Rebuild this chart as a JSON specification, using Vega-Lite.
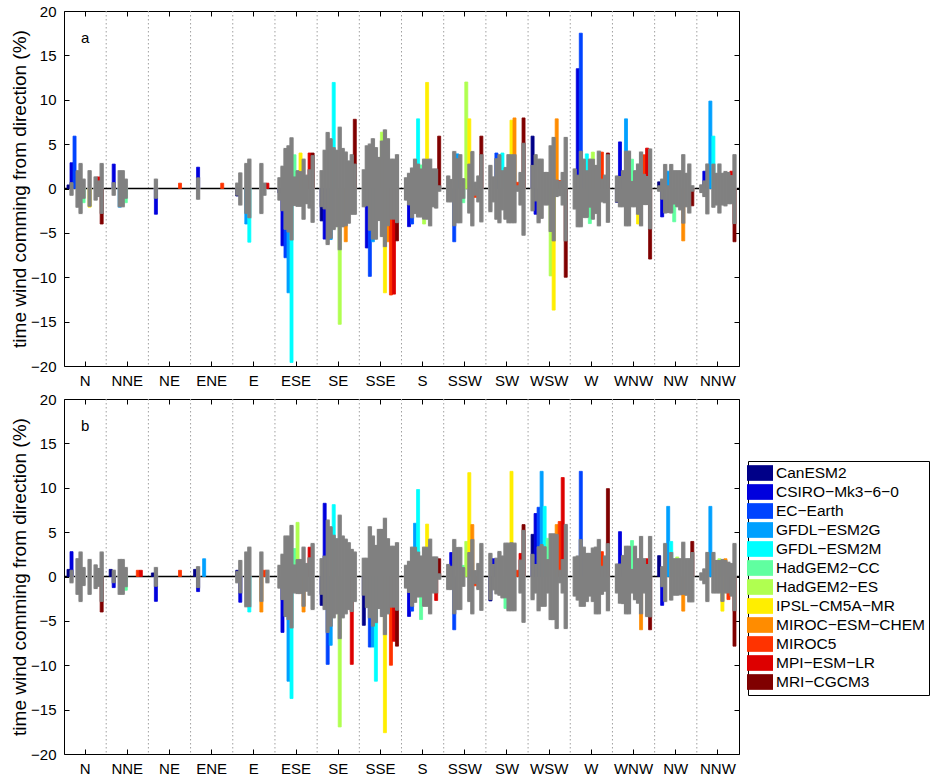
{
"$schema":"https://vega.github.io/schema/vega-lite/v6.json",
"padding":{"left":10,"top":3,"right":0,"bottom":0},
"config":{"font":"Liberation Sans","view":{"stroke":"black","strokeWidth":1},
"axis":{"labelFont":"Liberation Sans","titleFont":"Liberation Sans","tickColor":"black","labelColor":"black","titleColor":"black","grid":false,"domain":false}},
"spacing":2,
"resolve":{"scale":{"color":"independent","stroke":"independent"},"legend":{"color":"independent","stroke":"independent"}},
"datasets":{
"a":[
{"d":"N","m":"CanESM2","v":0.4},
{"d":"N","m":"CSIRO−Mk3−6−0","v":2.9,"lo":-0.75,"hi":0.65},
{"d":"N","m":"EC−Earth","v":5.9},
{"d":"N","m":"GFDL−ESM2G","lo":-2.1,"hi":2.0},
{"d":"N","m":"GFDL−ESM2M","lo":-2.8,"hi":2.8},
{"d":"N","m":"HadGEM2−CC","v":-1.6,"lo":-1.1,"hi":1.05},
{"d":"N","m":"IPSL−CM5A−MR","v":-2.1,"lo":-2.0,"hi":2.0},
{"d":"N","m":"MIROC5","lo":-1.3,"hi":1.3},
{"d":"N","m":"MPI−ESM−LR","v":1.3,"lo":-0.9,"hi":0.85},
{"d":"N","m":"MRI−CGCM3","v":-4.0,"lo":-2.8,"hi":2.8},
{"d":"NNE","m":"CSIRO−Mk3−6−0","v":2.75,"lo":-0.75,"hi":0.65},
{"d":"NNE","m":"GFDL−ESM2G","v":-2.1,"lo":-2.05,"hi":2.0},
{"d":"NNE","m":"GFDL−ESM2M","lo":-2.05,"hi":2.0},
{"d":"NNE","m":"HadGEM2−CC","v":-1.6,"lo":-1.1,"hi":1.05},
{"d":"NE","m":"CSIRO−Mk3−6−0","v":-2.9,"lo":-1.1,"hi":1.05},
{"d":"NE","m":"MIROC5","v":0.6},
{"d":"ENE","m":"CSIRO−Mk3−6−0","v":2.4,"lo":-1.2,"hi":1.2},
{"d":"ENE","m":"MIROC5","v":0.6},
{"d":"E","m":"CanESM2","v":-0.85,"lo":-0.75,"hi":0.6},
{"d":"E","m":"CSIRO−Mk3−6−0","lo":-1.85,"hi":1.75},
{"d":"E","m":"GFDL−ESM2G","v":-4.0,"lo":-2.8,"hi":2.8},
{"d":"E","m":"GFDL−ESM2M","v":-6.05,"lo":-3.3,"hi":3.3},
{"d":"E","m":"MIROC−ESM−CHEM","lo":-2.8,"hi":2.8},
{"d":"E","m":"MIROC5","lo":-0.75,"hi":0.6},
{"d":"E","m":"MPI−ESM−LR","v":0.6},
{"d":"ESE","m":"CanESM2","v":-0.5,"lo":-1.3,"hi":1.2},
{"d":"ESE","m":"CSIRO−Mk3−6−0","v":-6.45,"lo":-2.5,"hi":2.5},
{"d":"ESE","m":"EC−Earth","v":-7.8,"lo":-4.6,"hi":4.5},
{"d":"ESE","m":"GFDL−ESM2G","v":-11.75,"lo":-4.9,"hi":4.8},
{"d":"ESE","m":"GFDL−ESM2M","v":-19.6,"lo":-5.8,"hi":5.7},
{"d":"ESE","m":"HadGEM2−CC","v":3.8,"lo":-1.9,"hi":1.3},
{"d":"ESE","m":"HadGEM2−ES","lo":-2.0,"hi":2.0},
{"d":"ESE","m":"IPSL−CM5A−MR","v":4.0,"lo":-2.0,"hi":1.9},
{"d":"ESE","m":"MIROC−ESM−CHEM","lo":-3.45,"hi":3.3},
{"d":"ESE","m":"MIROC5","lo":-1.7,"hi":1.5},
{"d":"ESE","m":"MPI−ESM−LR","v":4.0,"lo":-2.2,"hi":2.1},
{"d":"ESE","m":"MRI−CGCM3","v":4.0,"lo":-3.8,"hi":3.7},
{"d":"SE","m":"CanESM2","v":-3.65,"lo":-2.05,"hi":2.0},
{"d":"SE","m":"CSIRO−Mk3−6−0","v":-5.7,"lo":-2.3,"hi":4.3},
{"d":"SE","m":"EC−Earth","lo":-6.3,"hi":6.3},
{"d":"SE","m":"GFDL−ESM2G","v":-5.75,"lo":-5.6,"hi":5.6},
{"d":"SE","m":"GFDL−ESM2M","v":11.95,"lo":-4.6,"hi":4.6},
{"d":"SE","m":"HadGEM2−CC","lo":-4.3,"hi":4.3},
{"d":"SE","m":"HadGEM2−ES","v":-15.3,"lo":-6.9,"hi":6.9},
{"d":"SE","m":"IPSL−CM5A−MR","lo":-4.3,"hi":4.5},
{"d":"SE","m":"MIROC−ESM−CHEM","v":-6.0,"lo":-4.2,"hi":4.1},
{"d":"SE","m":"MIROC5","lo":-3.9,"hi":3.1},
{"d":"SE","m":"MPI−ESM−LR","lo":-2.9,"hi":3.8},
{"d":"SE","m":"MRI−CGCM3","v":7.8,"lo":-2.9,"hi":2.75},
{"d":"SSE","m":"CanESM2","lo":-2.05,"hi":2.1},
{"d":"SSE","m":"CSIRO−Mk3−6−0","v":-6.7,"lo":-1.95,"hi":4.8},
{"d":"SSE","m":"EC−Earth","v":-9.9,"lo":-4.7,"hi":5.0},
{"d":"SSE","m":"GFDL−ESM2G","v":-6.0,"lo":-5.7,"hi":5.6},
{"d":"SSE","m":"GFDL−ESM2M","lo":-5.7,"hi":4.6},
{"d":"SSE","m":"HadGEM2−CC","lo":-3.6,"hi":3.5},
{"d":"SSE","m":"HadGEM2−ES","v":6.35,"lo":-5.4,"hi":5.35},
{"d":"SSE","m":"IPSL−CM5A−MR","v":-11.75,"lo":-6.55,"hi":6.6},
{"d":"SSE","m":"MIROC−ESM−CHEM","v":-6.0,"lo":-4.2,"hi":5.6},
{"d":"SSE","m":"MIROC5","v":-12.0,"lo":-3.45,"hi":3.3},
{"d":"SSE","m":"MPI−ESM−LR","v":-11.9,"lo":-3.45,"hi":3.3},
{"d":"SSE","m":"MRI−CGCM3","v":-5.9,"lo":-3.85,"hi":3.8},
{"d":"S","m":"CanESM2","lo":-1.3,"hi":1.2},
{"d":"S","m":"CSIRO−Mk3−6−0","v":-4.3,"lo":-1.85,"hi":1.7},
{"d":"S","m":"EC−Earth","v":-4.0,"lo":-3.3,"hi":2.3},
{"d":"S","m":"GFDL−ESM2G","lo":-2.8,"hi":3.3},
{"d":"S","m":"GFDL−ESM2M","v":7.85,"lo":-3.2,"hi":2.75},
{"d":"S","m":"HadGEM2−CC","v":2.65,"lo":-3.2,"hi":2.2},
{"d":"S","m":"HadGEM2−ES","v":-4.0,"lo":-3.45,"hi":3.3},
{"d":"S","m":"IPSL−CM5A−MR","v":11.95,"lo":-3.45,"hi":3.3},
{"d":"S","m":"MIROC−ESM−CHEM","lo":-4.2,"hi":3.3},
{"d":"S","m":"MIROC5","lo":-2.05,"hi":2.2},
{"d":"S","m":"MPI−ESM−LR","lo":-2.2,"hi":2.2},
{"d":"S","m":"MRI−CGCM3","v":5.9,"lo":-0.3,"hi":0.3},
{"d":"SSW","m":"CanESM2","lo":-1.5,"hi":1.4},
{"d":"SSW","m":"CSIRO−Mk3−6−0","lo":-1.5,"hi":1.0},
{"d":"SSW","m":"EC−Earth","v":-6.0,"lo":-4.2,"hi":4.15},
{"d":"SSW","m":"GFDL−ESM2G","v":3.9,"lo":-3.85,"hi":3.35},
{"d":"SSW","m":"GFDL−ESM2M","lo":-3.85,"hi":3.8},
{"d":"SSW","m":"HadGEM2−CC","v":-1.6,"lo":-1.1,"hi":1.1},
{"d":"SSW","m":"HadGEM2−ES","v":12.0},
{"d":"SSW","m":"IPSL−CM5A−MR","v":7.85,"lo":-2.75,"hi":2.75},
{"d":"SSW","m":"MIROC−ESM−CHEM","lo":-4.2,"hi":4.15},
{"d":"SSW","m":"MIROC5","v":-1.0,"lo":-0.75,"hi":0.7},
{"d":"SSW","m":"MPI−ESM−LR","lo":-1.5,"hi":1.4},
{"d":"SSW","m":"MRI−CGCM3","v":5.9,"lo":-3.75,"hi":3.8},
{"d":"SW","m":"CanESM2","lo":-2.6,"hi":2.6},
{"d":"SW","m":"CSIRO−Mk3−6−0","lo":-1.5,"hi":1.3},
{"d":"SW","m":"EC−Earth","v":4.0,"lo":-3.45,"hi":3.35},
{"d":"SW","m":"GFDL−ESM2G","lo":-3.85,"hi":3.8},
{"d":"SW","m":"GFDL−ESM2M","v":4.0,"lo":-2.4,"hi":2.0},
{"d":"SW","m":"HadGEM2−CC","lo":-3.45,"hi":2.35},
{"d":"SW","m":"HadGEM2−ES","lo":-3.85,"hi":3.8},
{"d":"SW","m":"IPSL−CM5A−MR","v":7.7,"lo":-3.85,"hi":3.8},
{"d":"SW","m":"MIROC−ESM−CHEM","v":7.95,"lo":-3.85,"hi":3.8},
{"d":"SW","m":"MIROC5","v":0.7,"lo":-0.3,"hi":0.3},
{"d":"SW","m":"MPI−ESM−LR","lo":-1.85,"hi":1.8},
{"d":"SW","m":"MRI−CGCM3","v":7.95,"lo":-5.25,"hi":5.1},
{"d":"WSW","m":"CanESM2","v":5.9,"lo":-2.5,"hi":2.6},
{"d":"WSW","m":"CSIRO−Mk3−6−0","v":-2.9,"lo":-1.4,"hi":3.8},
{"d":"WSW","m":"EC−Earth","lo":-3.85,"hi":3.3},
{"d":"WSW","m":"GFDL−ESM2G","lo":-3.35,"hi":3.3},
{"d":"WSW","m":"GFDL−ESM2M","lo":-1.85,"hi":1.8},
{"d":"WSW","m":"HadGEM2−CC","lo":-1.85,"hi":1.8},
{"d":"WSW","m":"HadGEM2−ES","v":-9.85,"lo":-4.85,"hi":4.8},
{"d":"WSW","m":"IPSL−CM5A−MR","v":-13.7,"lo":-5.9,"hi":5.75},
{"d":"WSW","m":"MIROC−ESM−CHEM","v":7.85,"lo":-0.9,"hi":0.95},
{"d":"WSW","m":"MIROC5","v":0.9,"lo":-0.8,"hi":0.8},
{"d":"WSW","m":"MPI−ESM−LR","lo":-1.85,"hi":1.8},
{"d":"WSW","m":"MRI−CGCM3","v":-10.0,"lo":-5.9,"hi":5.75},
{"d":"W","m":"CanESM2","lo":-2.3,"hi":2.2},
{"d":"W","m":"CSIRO−Mk3−6−0","v":13.5,"lo":-4.3,"hi":1.5},
{"d":"W","m":"EC−Earth","v":17.5,"lo":-4.3,"hi":4.2},
{"d":"W","m":"GFDL−ESM2G","lo":-3.25,"hi":3.3},
{"d":"W","m":"GFDL−ESM2M","v":3.9,"lo":-3.25,"hi":2.0},
{"d":"W","m":"HadGEM2−CC","v":-3.95,"lo":-2.1,"hi":3.3},
{"d":"W","m":"HadGEM2−ES","v":4.1,"lo":-3.45,"hi":3.3},
{"d":"W","m":"IPSL−CM5A−MR","lo":-2.8,"hi":2.6},
{"d":"W","m":"MIROC−ESM−CHEM","lo":-4.2,"hi":4.2},
{"d":"W","m":"MIROC5","v":4.1,"lo":-1.5,"hi":1.05},
{"d":"W","m":"MPI−ESM−LR","lo":-1.6,"hi":1.5},
{"d":"W","m":"MRI−CGCM3","v":4.0,"lo":-3.8,"hi":3.8},
{"d":"WNW","m":"CanESM2","v":-1.55,"lo":-1.5,"hi":1.4},
{"d":"WNW","m":"CSIRO−Mk3−6−0","v":5.25,"lo":-2.05,"hi":1.35},
{"d":"WNW","m":"EC−Earth","lo":-2.05,"hi":2.0},
{"d":"WNW","m":"GFDL−ESM2G","v":7.85,"lo":-4.2,"hi":4.2},
{"d":"WNW","m":"GFDL−ESM2M","lo":-4.2,"hi":4.2},
{"d":"WNW","m":"HadGEM2−CC","v":3.3,"lo":-2.05,"hi":0.8},
{"d":"WNW","m":"HadGEM2−ES","lo":-2.05,"hi":2.0},
{"d":"WNW","m":"IPSL−CM5A−MR","v":-4.0,"lo":-2.9,"hi":2.75},
{"d":"WNW","m":"MIROC−ESM−CHEM","lo":-4.2,"hi":4.1},
{"d":"WNW","m":"MIROC5","v":3.8,"lo":-1.8,"hi":1.6},
{"d":"WNW","m":"MPI−ESM−LR","v":4.55,"lo":-1.8,"hi":1.35},
{"d":"WNW","m":"MRI−CGCM3","v":-7.95,"lo":-4.55,"hi":4.45},
{"d":"NW","m":"CanESM2","v":0.75,"lo":-0.3,"hi":0.3},
{"d":"NW","m":"CSIRO−Mk3−6−0","v":-3.2,"lo":-1.2,"hi":1.05},
{"d":"NW","m":"EC−Earth","lo":-2.75,"hi":2.7},
{"d":"NW","m":"GFDL−ESM2G","v":1.95,"lo":-2.7,"hi":0.3},
{"d":"NW","m":"GFDL−ESM2M","lo":-2.75,"hi":2.7},
{"d":"NW","m":"HadGEM2−CC","v":-3.75,"lo":-1.75,"hi":2.0},
{"d":"NW","m":"HadGEM2−ES","lo":-2.05,"hi":2.0},
{"d":"NW","m":"IPSL−CM5A−MR","lo":-2.4,"hi":2.0},
{"d":"NW","m":"MIROC−ESM−CHEM","v":-5.9,"lo":-3.9,"hi":3.8},
{"d":"NW","m":"MIROC5","lo":-2.05,"hi":1.7},
{"d":"NW","m":"MPI−ESM−LR","lo":-2.75,"hi":2.75},
{"d":"NW","m":"MRI−CGCM3","v":-1.95,"lo":-0.3,"hi":0.3},
{"d":"NNW","m":"CanESM2","lo":-0.45,"hi":0.4},
{"d":"NNW","m":"CSIRO−Mk3−6−0","v":1.95,"lo":-0.9,"hi":0.85},
{"d":"NNW","m":"EC−Earth","lo":-2.85,"hi":2.75},
{"d":"NNW","m":"GFDL−ESM2G","v":9.85},
{"d":"NNW","m":"GFDL−ESM2M","v":5.9,"lo":-2.1,"hi":2.75},
{"d":"NNW","m":"HadGEM2−CC","lo":-1.85,"hi":1.7},
{"d":"NNW","m":"HadGEM2−ES","lo":-2.75,"hi":2.75},
{"d":"NNW","m":"IPSL−CM5A−MR","lo":-1.85,"hi":1.7},
{"d":"NNW","m":"MIROC−ESM−CHEM","lo":-1.95,"hi":1.9},
{"d":"NNW","m":"MIROC5","lo":-1.7,"hi":1.8},
{"d":"NNW","m":"MPI−ESM−LR","v":1.95,"lo":-1.7,"hi":1.45},
{"d":"NNW","m":"MRI−CGCM3","v":-6.0,"lo":-3.95,"hi":3.8}
],
"b":[
{"d":"N","m":"CanESM2","v":0.8},
{"d":"N","m":"CSIRO−Mk3−6−0","v":2.8,"lo":-0.7,"hi":0.7},
{"d":"N","m":"GFDL−ESM2G","lo":-2.0,"hi":2.0},
{"d":"N","m":"GFDL−ESM2M","lo":-2.8,"hi":2.75},
{"d":"N","m":"HadGEM2−CC","lo":-1.0,"hi":1.0},
{"d":"N","m":"IPSL−CM5A−MR","lo":-2.0,"hi":1.9},
{"d":"N","m":"MIROC5","lo":-1.35,"hi":1.3},
{"d":"N","m":"MPI−ESM−LR","lo":-1.1,"hi":0.9},
{"d":"N","m":"MRI−CGCM3","v":-4.0,"lo":-2.8,"hi":2.75},
{"d":"NNE","m":"CanESM2","v":0.8},
{"d":"NNE","m":"CSIRO−Mk3−6−0","v":-1.25,"lo":-0.7,"hi":0.7},
{"d":"NNE","m":"GFDL−ESM2G","lo":-2.0,"hi":1.9},
{"d":"NNE","m":"GFDL−ESM2M","lo":-2.0,"hi":1.9},
{"d":"NNE","m":"HadGEM2−CC","v":-1.55,"lo":-1.15,"hi":1.0},
{"d":"NNE","m":"MIROC5","v":0.7},
{"d":"NNE","m":"MPI−ESM−LR","v":0.7},
{"d":"NE","m":"CanESM2","v":0.4},
{"d":"NE","m":"CSIRO−Mk3−6−0","v":-2.8,"lo":-1.1,"hi":1.0},
{"d":"NE","m":"MIROC5","v":0.7},
{"d":"ENE","m":"CanESM2","v":0.8},
{"d":"ENE","m":"CSIRO−Mk3−6−0","v":-1.7,"lo":-1.25,"hi":1.1},
{"d":"ENE","m":"GFDL−ESM2G","v":2.0},
{"d":"E","m":"CanESM2","v":0.7,"lo":-0.7,"hi":0.55},
{"d":"E","m":"CSIRO−Mk3−6−0","v":-2.9,"lo":-1.85,"hi":1.8},
{"d":"E","m":"GFDL−ESM2G","lo":-3.4,"hi":2.75},
{"d":"E","m":"GFDL−ESM2M","v":-4.0,"lo":-3.4,"hi":3.3},
{"d":"E","m":"MIROC−ESM−CHEM","v":-4.0,"lo":-2.8,"hi":2.75},
{"d":"E","m":"MIROC5","v":0.7},
{"d":"E","m":"MPI−ESM−LR","lo":-0.7,"hi":0.7},
{"d":"ESE","m":"CanESM2","lo":-1.3,"hi":1.25},
{"d":"ESE","m":"CSIRO−Mk3−6−0","v":-6.3,"lo":-2.6,"hi":2.5},
{"d":"ESE","m":"EC−Earth","lo":-4.5,"hi":4.55},
{"d":"ESE","m":"GFDL−ESM2G","v":-11.8,"lo":-4.85,"hi":4.55},
{"d":"ESE","m":"GFDL−ESM2M","v":-13.75,"lo":-5.8,"hi":5.75},
{"d":"ESE","m":"HadGEM2−CC","v":3.15,"lo":-1.85,"hi":1.3},
{"d":"ESE","m":"HadGEM2−ES","v":6.1,"lo":-1.9,"hi":1.9},
{"d":"ESE","m":"IPSL−CM5A−MR","lo":-1.9,"hi":1.9},
{"d":"ESE","m":"MIROC−ESM−CHEM","v":-4.0,"lo":-3.35,"hi":3.3},
{"d":"ESE","m":"MIROC5","lo":-1.65,"hi":1.45},
{"d":"ESE","m":"MPI−ESM−LR","v":3.3,"lo":-2.1,"hi":2.1},
{"d":"ESE","m":"MRI−CGCM3","lo":-3.7,"hi":3.7},
{"d":"SE","m":"CanESM2","v":-3.25,"lo":-2.0,"hi":2.0},
{"d":"SE","m":"CSIRO−Mk3−6−0","v":8.25,"lo":-3.7,"hi":2.3},
{"d":"SE","m":"EC−Earth","v":-9.9,"lo":-6.3,"hi":6.35},
{"d":"SE","m":"GFDL−ESM2G","v":-7.75,"lo":-5.6,"hi":5.6},
{"d":"SE","m":"GFDL−ESM2M","v":8.1,"lo":-4.65,"hi":4.65},
{"d":"SE","m":"HadGEM2−CC","lo":-4.2,"hi":4.25},
{"d":"SE","m":"HadGEM2−ES","v":-16.95,"lo":-7.0,"hi":6.9},
{"d":"SE","m":"IPSL−CM5A−MR","lo":-4.65,"hi":4.55},
{"d":"SE","m":"MIROC−ESM−CHEM","lo":-4.2,"hi":4.2},
{"d":"SE","m":"MIROC5","lo":-3.7,"hi":3.8},
{"d":"SE","m":"MPI−ESM−LR","v":-9.9,"lo":-3.95,"hi":3.05},
{"d":"SE","m":"MRI−CGCM3","lo":-2.8,"hi":2.75},
{"d":"SSE","m":"CanESM2","v":-5.5,"lo":-2.1,"hi":2.05},
{"d":"SSE","m":"CSIRO−Mk3−6−0","lo":-3.5,"hi":2.05},
{"d":"SSE","m":"EC−Earth","v":-7.95,"lo":-4.65,"hi":5.6},
{"d":"SSE","m":"GFDL−ESM2G","v":-7.95,"lo":-5.6,"hi":4.55},
{"d":"SSE","m":"GFDL−ESM2M","v":-11.8,"lo":-5.2,"hi":3.5},
{"d":"SSE","m":"HadGEM2−CC","lo":-3.6,"hi":5.3},
{"d":"SSE","m":"HadGEM2−ES","lo":-4.5,"hi":5.3},
{"d":"SSE","m":"IPSL−CM5A−MR","v":-17.6,"lo":-6.55,"hi":6.55},
{"d":"SSE","m":"MIROC−ESM−CHEM","lo":-4.2,"hi":4.25},
{"d":"SSE","m":"MIROC5","v":-10.0,"lo":-3.45,"hi":3.4},
{"d":"SSE","m":"MPI−ESM−LR","v":-7.3,"lo":-3.45,"hi":3.4},
{"d":"SSE","m":"MRI−CGCM3","v":-7.85,"lo":-3.8,"hi":3.8},
{"d":"S","m":"CanESM2","lo":-1.3,"hi":1.25},
{"d":"S","m":"CSIRO−Mk3−6−0","v":-4.5,"lo":-1.8,"hi":1.7},
{"d":"S","m":"EC−Earth","v":-3.9,"lo":-3.35,"hi":3.3},
{"d":"S","m":"GFDL−ESM2G","v":6.0,"lo":-2.9,"hi":3.3},
{"d":"S","m":"GFDL−ESM2M","v":9.8,"lo":-2.3,"hi":2.75},
{"d":"S","m":"HadGEM2−CC","v":-4.85,"lo":-2.3,"hi":2.3},
{"d":"S","m":"HadGEM2−ES","lo":-3.35,"hi":3.3},
{"d":"S","m":"IPSL−CM5A−MR","v":5.9,"lo":-3.35,"hi":3.3},
{"d":"S","m":"MIROC−ESM−CHEM","lo":-4.2,"hi":4.2},
{"d":"S","m":"MIROC5","lo":-1.85,"hi":2.2},
{"d":"S","m":"MPI−ESM−LR","v":-2.7,"lo":-1.85,"hi":2.2},
{"d":"S","m":"MRI−CGCM3","v":2.0,"lo":-0.3,"hi":0.3},
{"d":"SSW","m":"CanESM2","lo":-1.45,"hi":1.35},
{"d":"SSW","m":"CSIRO−Mk3−6−0","v":2.7,"lo":-1.45,"hi":1.15},
{"d":"SSW","m":"EC−Earth","v":-6.0,"lo":-4.2,"hi":4.15},
{"d":"SSW","m":"GFDL−ESM2G","lo":-3.7,"hi":3.25},
{"d":"SSW","m":"GFDL−ESM2M","lo":-3.7,"hi":3.25},
{"d":"SSW","m":"HadGEM2−CC","v":1.25,"lo":-1.1,"hi":1.0},
{"d":"SSW","m":"HadGEM2−ES","v":3.95},
{"d":"SSW","m":"IPSL−CM5A−MR","v":11.7,"lo":-2.8,"hi":2.7},
{"d":"SSW","m":"MIROC−ESM−CHEM","v":5.85,"lo":-4.2,"hi":4.15},
{"d":"SSW","m":"MIROC5","v":-1.05,"lo":-0.8,"hi":0.65},
{"d":"SSW","m":"MPI−ESM−LR","lo":-1.45,"hi":1.45},
{"d":"SSW","m":"MRI−CGCM3","lo":-3.8,"hi":3.7},
{"d":"SW","m":"CanESM2","v":-2.75,"lo":-2.6,"hi":2.6},
{"d":"SW","m":"CSIRO−Mk3−6−0","v":2.0,"lo":-1.5,"hi":1.35},
{"d":"SW","m":"EC−Earth","lo":-1.95,"hi":2.05},
{"d":"SW","m":"GFDL−ESM2G","lo":-2.1,"hi":2.8},
{"d":"SW","m":"GFDL−ESM2M","lo":-2.4,"hi":2.3},
{"d":"SW","m":"HadGEM2−CC","v":-3.6,"lo":-2.4,"hi":3.75},
{"d":"SW","m":"HadGEM2−ES","lo":-3.85,"hi":3.75},
{"d":"SW","m":"IPSL−CM5A−MR","v":11.85,"lo":-3.85,"hi":3.8},
{"d":"SW","m":"MIROC−ESM−CHEM","lo":-3.85,"hi":3.75},
{"d":"SW","m":"MIROC5","v":0.7},
{"d":"SW","m":"MPI−ESM−LR","v":2.6,"lo":-1.85,"hi":1.85},
{"d":"SW","m":"MRI−CGCM3","v":5.85,"lo":-5.15,"hi":5.2},
{"d":"WSW","m":"CanESM2","v":4.75,"lo":-2.6,"hi":2.5},
{"d":"WSW","m":"CSIRO−Mk3−6−0","v":7.1,"lo":-1.85,"hi":1.35},
{"d":"WSW","m":"EC−Earth","v":7.8,"lo":-3.85,"hi":3.35},
{"d":"WSW","m":"GFDL−ESM2G","v":11.85,"lo":-3.35,"hi":3.6},
{"d":"WSW","m":"GFDL−ESM2M","v":7.9,"lo":-3.35,"hi":3.35},
{"d":"WSW","m":"HadGEM2−CC","v":4.3,"lo":-1.85,"hi":1.9},
{"d":"WSW","m":"HadGEM2−ES","lo":-4.85,"hi":4.8},
{"d":"WSW","m":"IPSL−CM5A−MR","lo":-4.85,"hi":4.8},
{"d":"WSW","m":"MIROC−ESM−CHEM","v":5.85,"lo":-5.85,"hi":4.75},
{"d":"WSW","m":"MIROC5","v":6.2,"lo":-0.7,"hi":0.7},
{"d":"WSW","m":"MPI−ESM−LR","v":11.15,"lo":-1.85,"hi":1.9},
{"d":"WSW","m":"MRI−CGCM3","lo":-5.85,"hi":5.85},
{"d":"W","m":"CanESM2","lo":-2.2,"hi":2.2},
{"d":"W","m":"CSIRO−Mk3−6−0","lo":-2.65,"hi":2.3},
{"d":"W","m":"EC−Earth","v":11.85,"lo":-3.35,"hi":4.15},
{"d":"W","m":"GFDL−ESM2G","lo":-3.35,"hi":3.3},
{"d":"W","m":"GFDL−ESM2M","lo":-2.8,"hi":2.6},
{"d":"W","m":"HadGEM2−CC","lo":-2.2,"hi":2.6},
{"d":"W","m":"HadGEM2−ES","lo":-2.8,"hi":3.2},
{"d":"W","m":"IPSL−CM5A−MR","lo":-4.2,"hi":3.3},
{"d":"W","m":"MIROC−ESM−CHEM","lo":-4.2,"hi":4.15},
{"d":"W","m":"MIROC5","v":2.8,"lo":-2.0,"hi":1.15},
{"d":"W","m":"MPI−ESM−LR","lo":-1.65,"hi":2.3},
{"d":"W","m":"MRI−CGCM3","v":9.9,"lo":-3.85,"hi":3.7},
{"d":"WNW","m":"CanESM2","lo":-1.85,"hi":1.4},
{"d":"WNW","m":"CSIRO−Mk3−6−0","v":5.05,"lo":-3.0,"hi":1.4},
{"d":"WNW","m":"EC−Earth","lo":-3.05,"hi":2.35},
{"d":"WNW","m":"GFDL−ESM2G","lo":-4.2,"hi":3.4},
{"d":"WNW","m":"GFDL−ESM2M","lo":-4.2,"hi":3.4},
{"d":"WNW","m":"HadGEM2−CC","v":4.05,"lo":-1.85,"hi":0.8},
{"d":"WNW","m":"HadGEM2−ES","lo":-2.6,"hi":3.4},
{"d":"WNW","m":"IPSL−CM5A−MR","lo":-3.0,"hi":2.0},
{"d":"WNW","m":"MIROC−ESM−CHEM","v":-6.0,"lo":-4.2,"hi":4.5},
{"d":"WNW","m":"MIROC5","lo":-1.85,"hi":2.0},
{"d":"WNW","m":"MPI−ESM−LR","v":2.0,"lo":-4.5,"hi":1.35},
{"d":"WNW","m":"MRI−CGCM3","v":-6.0,"lo":-4.55,"hi":4.5},
{"d":"NW","m":"CanESM2","v":2.35},
{"d":"NW","m":"CSIRO−Mk3−6−0","v":-3.25,"lo":-1.15,"hi":1.1},
{"d":"NW","m":"EC−Earth","lo":-2.8,"hi":3.7},
{"d":"NW","m":"GFDL−ESM2G","v":7.9},
{"d":"NW","m":"GFDL−ESM2M","v":3.95,"lo":-2.65,"hi":2.7},
{"d":"NW","m":"HadGEM2−CC","lo":-2.1,"hi":2.0},
{"d":"NW","m":"HadGEM2−ES","v":2.2,"lo":-2.1,"hi":2.0},
{"d":"NW","m":"IPSL−CM5A−MR","lo":-2.05,"hi":2.0},
{"d":"NW","m":"MIROC−ESM−CHEM","v":-3.9,"lo":-2.0,"hi":3.85},
{"d":"NW","m":"MIROC5","lo":-2.1,"hi":2.0},
{"d":"NW","m":"MPI−ESM−LR","lo":-2.85,"hi":2.0},
{"d":"NW","m":"MRI−CGCM3","v":3.95,"lo":-2.85,"hi":2.7},
{"d":"NNW","m":"CanESM2","lo":-0.4,"hi":0.4},
{"d":"NNW","m":"CSIRO−Mk3−6−0","lo":-0.8,"hi":0.85},
{"d":"NNW","m":"EC−Earth","lo":-2.8,"hi":2.7},
{"d":"NNW","m":"GFDL−ESM2G","v":7.9},
{"d":"NNW","m":"GFDL−ESM2M","lo":-1.85,"hi":2.7},
{"d":"NNW","m":"HadGEM2−CC","lo":-1.85,"hi":1.8},
{"d":"NNW","m":"HadGEM2−ES","v":2.0,"lo":-1.85,"hi":1.8},
{"d":"NNW","m":"IPSL−CM5A−MR","v":-3.9,"lo":-2.8,"hi":1.9},
{"d":"NNW","m":"MIROC−ESM−CHEM","v":2.0,"lo":-1.85,"hi":1.8},
{"d":"NNW","m":"MIROC5","v":-2.6,"lo":-1.85,"hi":1.6},
{"d":"NNW","m":"MPI−ESM−LR","lo":-2.2,"hi":1.45},
{"d":"NNW","m":"MRI−CGCM3","v":-7.85,"lo":-3.85,"hi":3.7}
],
"seps":[{"d":"NNE"},{"d":"NE"},{"d":"ENE"},{"d":"E"},{"d":"ESE"},{"d":"SE"},{"d":"SSE"},{"d":"S"},{"d":"SSW"},{"d":"SW"},{"d":"WSW"},{"d":"W"},{"d":"WNW"},{"d":"NW"},{"d":"NNW"}]
},
"vconcat":[
{
"width":675,"height":355,
"data":{"name":"a"},
"layer":[
{"data":{"name":"seps"},"mark":{"type":"rule","color":"#a0a0a0","strokeDash":[1.5,2.5],"strokeWidth":1},
 "encoding":{"x":{"field":"d","type":"nominal","bandPosition":0,"scale":{"domain":["N","NNE","NE","ENE","E","ESE","SE","SSE","S","SSW","SW","WSW","W","WNW","NW","NNW"],"paddingInner":0,"paddingOuter":0,"round":false},"axis":null}}},
{"data":{"values":[{}]},"mark":{"type":"rule","color":"black","strokeWidth":1.3},
 "encoding":{"y":{"datum":0,"type":"quantitative","scale":{"domain":[-20,20],"nice":false},"axis":null}}},
{"mark":{"type":"bar","color":"#d2d2d2","stroke":"#d2d2d2","strokeWidth":1.6,"xOffset":1},
 "encoding":{
  "x":{"field":"d","type":"nominal","axis":null},
  "xOffset":{"field":"m","type":"nominal"},
  "y":{"field":"lo","type":"quantitative","axis":null},
  "y2":{"field":"hi"}}},
{"mark":{"type":"bar","strokeWidth":0.8},
 "encoding":{
  "x":{"field":"d","type":"nominal","scale":{"domain":["N","NNE","NE","ENE","E","ESE","SE","SSE","S","SSW","SW","WSW","W","WNW","NW","NNW"],"paddingInner":0,"paddingOuter":0,"round":false},
       "axis":{"orient":"bottom","title":null,"labelAngle":0,"labelFontSize":15,"tickSize":-5,"labelPadding":12}},
  "xOffset":{"field":"m","type":"nominal","scale":{"domain":["CanESM2","CSIRO−Mk3−6−0","EC−Earth","GFDL−ESM2G","GFDL−ESM2M","HadGEM2−CC","HadGEM2−ES","IPSL−CM5A−MR","MIROC−ESM−CHEM","MIROC5","MPI−ESM−LR","MRI−CGCM3"],"paddingInner":0,"paddingOuter":1.2,"round":false}},
  "y":{"field":"v","type":"quantitative","stack":null,"scale":{"domain":[-20,20],"nice":false},
       "axis":{"orient":"left","values":[-20,-15,-10,-5,0,5,10,15,20],"tickSize":-5,"labelPadding":13,"labelFontSize":15,"title":"time wind comming from direction (%)","titleFontSize":19,"titleFontWeight":"normal","titlePadding":1}},
  "color":{"field":"m","type":"nominal","scale":{"domain":["CanESM2","CSIRO−Mk3−6−0","EC−Earth","GFDL−ESM2G","GFDL−ESM2M","HadGEM2−CC","HadGEM2−ES","IPSL−CM5A−MR","MIROC−ESM−CHEM","MIROC5","MPI−ESM−LR","MRI−CGCM3"],"range":["#000088","#0000DD","#0044FF","#00A0FF","#00FFFF","#60FFA0","#B0FF50","#FFEE00","#FF8C00","#FF3300","#DD0000","#800000"]},"legend":null},
  "stroke":{"field":"m","type":"nominal","scale":{"domain":["CanESM2","CSIRO−Mk3−6−0","EC−Earth","GFDL−ESM2G","GFDL−ESM2M","HadGEM2−CC","HadGEM2−ES","IPSL−CM5A−MR","MIROC−ESM−CHEM","MIROC5","MPI−ESM−LR","MRI−CGCM3"],"range":["#000088","#0000DD","#0044FF","#00A0FF","#00FFFF","#60FFA0","#B0FF50","#FFEE00","#FF8C00","#FF3300","#DD0000","#800000"]},"legend":null}}},
{"mark":{"type":"bar","color":"#808080","stroke":"#808080","strokeWidth":1},
 "encoding":{
  "x":{"field":"d","type":"nominal","axis":{"orient":"top","title":null,"labels":false,"tickSize":-5}},
  "xOffset":{"field":"m","type":"nominal"},
  "y":{"field":"lo","type":"quantitative","axis":{"orient":"right","values":[-20,-15,-10,-5,0,5,10,15,20],"labels":false,"tickSize":-5,"title":null}},
  "y2":{"field":"hi"}}},
{"data":{"values":[{}]},"mark":{"type":"text","fontSize":15,"font":"Liberation Sans","color":"black"},
 "encoding":{"x":{"datum":"N","type":"nominal","axis":null},"y":{"datum":17,"type":"quantitative","axis":null},"text":{"value":"a"}}}
],
"resolve":{"axis":{"x":"independent","y":"independent"}}
},
{
"width":675,"height":355,
"data":{"name":"b"},
"layer":[
{"data":{"name":"seps"},"mark":{"type":"rule","color":"#a0a0a0","strokeDash":[1.5,2.5],"strokeWidth":1},
 "encoding":{"x":{"field":"d","type":"nominal","bandPosition":0,"scale":{"domain":["N","NNE","NE","ENE","E","ESE","SE","SSE","S","SSW","SW","WSW","W","WNW","NW","NNW"],"paddingInner":0,"paddingOuter":0,"round":false},"axis":null}}},
{"data":{"values":[{}]},"mark":{"type":"rule","color":"black","strokeWidth":1.3},
 "encoding":{"y":{"datum":0,"type":"quantitative","scale":{"domain":[-20,20],"nice":false},"axis":null}}},
{"mark":{"type":"bar","color":"#d2d2d2","stroke":"#d2d2d2","strokeWidth":1.6,"xOffset":1},
 "encoding":{
  "x":{"field":"d","type":"nominal","axis":null},
  "xOffset":{"field":"m","type":"nominal"},
  "y":{"field":"lo","type":"quantitative","axis":null},
  "y2":{"field":"hi"}}},
{"mark":{"type":"bar","strokeWidth":0.8},
 "encoding":{
  "x":{"field":"d","type":"nominal","scale":{"domain":["N","NNE","NE","ENE","E","ESE","SE","SSE","S","SSW","SW","WSW","W","WNW","NW","NNW"],"paddingInner":0,"paddingOuter":0,"round":false},
       "axis":{"orient":"bottom","title":null,"labelAngle":0,"labelFontSize":15,"tickSize":-5,"labelPadding":12}},
  "xOffset":{"field":"m","type":"nominal","scale":{"domain":["CanESM2","CSIRO−Mk3−6−0","EC−Earth","GFDL−ESM2G","GFDL−ESM2M","HadGEM2−CC","HadGEM2−ES","IPSL−CM5A−MR","MIROC−ESM−CHEM","MIROC5","MPI−ESM−LR","MRI−CGCM3"],"paddingInner":0,"paddingOuter":1.2,"round":false}},
  "y":{"field":"v","type":"quantitative","stack":null,"scale":{"domain":[-20,20],"nice":false},
       "axis":{"orient":"left","values":[-20,-15,-10,-5,0,5,10,15,20],"tickSize":-5,"labelPadding":13,"labelFontSize":15,"title":"time wind comming from direction (%)","titleFontSize":19,"titleFontWeight":"normal","titlePadding":1}},
  "color":{"field":"m","type":"nominal","scale":{"domain":["CanESM2","CSIRO−Mk3−6−0","EC−Earth","GFDL−ESM2G","GFDL−ESM2M","HadGEM2−CC","HadGEM2−ES","IPSL−CM5A−MR","MIROC−ESM−CHEM","MIROC5","MPI−ESM−LR","MRI−CGCM3"],"range":["#000088","#0000DD","#0044FF","#00A0FF","#00FFFF","#60FFA0","#B0FF50","#FFEE00","#FF8C00","#FF3300","#DD0000","#800000"]},
   "legend":{"orient":"none","legendX":684,"legendY":62,"title":null,"symbolType":"M-1.66,-1H1.66V1H-1.66Z","symbolSize":246,"symbolStrokeWidth":0,"symbolOpacity":1,"labelFontSize":15.5,"labelFont":"Liberation Sans","labelColor":"black","labelOffset":8,"rowPadding":2,"strokeColor":"black","fillColor":"white","padding":4}},
  "stroke":{"field":"m","type":"nominal","scale":{"domain":["CanESM2","CSIRO−Mk3−6−0","EC−Earth","GFDL−ESM2G","GFDL−ESM2M","HadGEM2−CC","HadGEM2−ES","IPSL−CM5A−MR","MIROC−ESM−CHEM","MIROC5","MPI−ESM−LR","MRI−CGCM3"],"range":["#000088","#0000DD","#0044FF","#00A0FF","#00FFFF","#60FFA0","#B0FF50","#FFEE00","#FF8C00","#FF3300","#DD0000","#800000"]},"legend":null}}},
{"mark":{"type":"bar","color":"#808080","stroke":"#808080","strokeWidth":1},
 "encoding":{
  "x":{"field":"d","type":"nominal","axis":{"orient":"top","title":null,"labels":false,"tickSize":-5}},
  "xOffset":{"field":"m","type":"nominal"},
  "y":{"field":"lo","type":"quantitative","axis":{"orient":"right","values":[-20,-15,-10,-5,0,5,10,15,20],"labels":false,"tickSize":-5,"title":null}},
  "y2":{"field":"hi"}}},
{"data":{"values":[{}]},"mark":{"type":"text","fontSize":15,"font":"Liberation Sans","color":"black"},
 "encoding":{"x":{"datum":"N","type":"nominal","axis":null},"y":{"datum":17,"type":"quantitative","axis":null},"text":{"value":"b"}}}
],
"resolve":{"axis":{"x":"independent","y":"independent"}}
}
]
}
